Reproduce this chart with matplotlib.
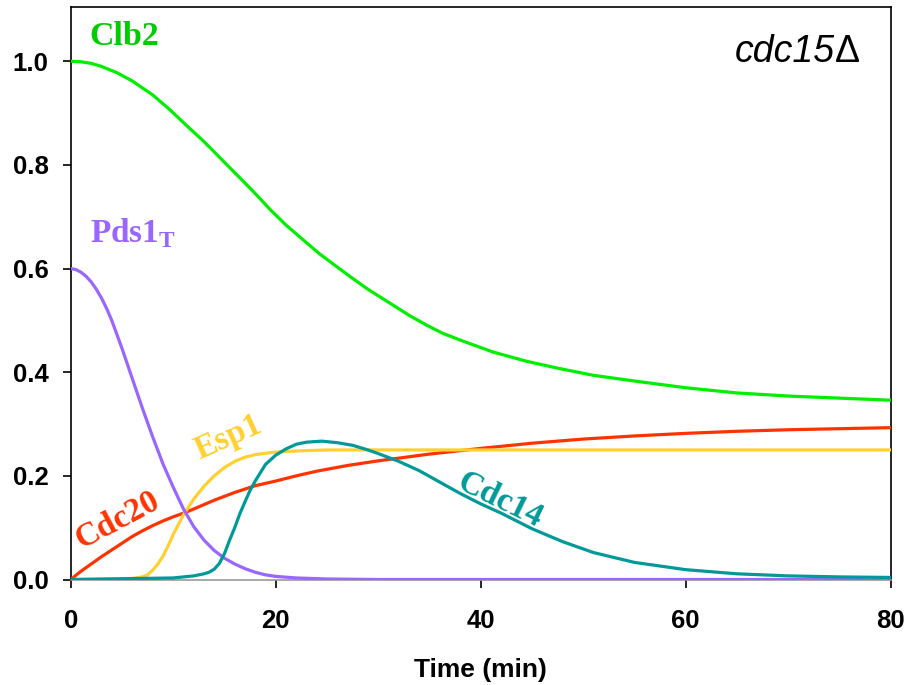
import matplotlib
matplotlib.use("Agg")
import matplotlib.pyplot as plt

# ---- data ----
t_clb2 = [0, 1, 2, 3, 4.5, 6, 8, 9.7, 11.3, 13, 14.5, 16, 17.8, 19.5, 21, 22.7, 24.3, 26, 27.5, 29, 31.4,
          33, 34.7, 36.3, 38, 41.2, 44.5, 47.7, 51, 55, 60, 65, 70, 75, 80]
clb2 = [1.0, 0.999, 0.996, 0.99, 0.978, 0.962, 0.935, 0.906, 0.876, 0.845, 0.815, 0.785, 0.749, 0.713,
        0.684, 0.655, 0.628, 0.603, 0.581, 0.56, 0.53, 0.51, 0.491, 0.475, 0.462, 0.439, 0.421, 0.407,
        0.394, 0.383, 0.37, 0.36, 0.354, 0.35, 0.346]

t_pds1 = [0, 0.5, 1, 1.5, 2, 2.5, 3, 3.5, 4, 5, 6, 7, 8, 9, 10, 11, 12, 13, 14, 15, 16, 17, 18, 19, 20,
          22, 25, 30, 40, 60, 80]
pds1 = [0.6, 0.598, 0.593, 0.585, 0.574, 0.56, 0.543, 0.523, 0.50, 0.446, 0.388, 0.33, 0.275, 0.223,
        0.178, 0.136, 0.102, 0.076, 0.056, 0.041, 0.03, 0.021, 0.014, 0.009, 0.006, 0.003, 0.001, 0.0,
        0.0, 0.0, 0.0]

t_esp1 = [0, 5, 6, 7, 7.5, 8, 8.5, 9, 9.5, 10, 11, 12, 13, 14, 15, 16, 17, 18, 20, 22, 25, 30, 40, 60, 80]
esp1 = [0.0, 0.001, 0.002, 0.005, 0.009, 0.018, 0.03, 0.045, 0.065, 0.087, 0.125, 0.155, 0.18, 0.2,
        0.216, 0.228, 0.236, 0.241, 0.246, 0.248, 0.25, 0.25, 0.25, 0.25, 0.25]

t_cdc20 = [0, 1, 2, 3, 4, 5, 6, 7, 8, 9, 10, 11, 12, 14, 16, 18, 20, 22, 24, 27, 30, 35, 40, 45, 50,
           55, 60, 65, 70, 75, 80]
cdc20 = [0.0, 0.016, 0.03, 0.044, 0.057, 0.07, 0.083, 0.094, 0.104, 0.113, 0.121, 0.128, 0.136, 0.153,
         0.168, 0.181, 0.19, 0.2, 0.209, 0.22, 0.229, 0.242, 0.253, 0.263, 0.271, 0.277, 0.282, 0.286,
         0.289, 0.291, 0.293]

t_cdc14 = [0, 10, 12, 13, 13.5, 14, 14.5, 15, 15.5, 16, 16.5, 17, 17.5, 18, 19, 20, 21, 22, 23, 24.5, 26,
           27.5, 29, 30, 32, 34, 36, 38, 40, 42, 45, 48, 51, 55, 60, 65, 70, 75, 80]
cdc14 = [0.0, 0.003, 0.007, 0.011, 0.014, 0.02, 0.031, 0.05, 0.076, 0.1, 0.127, 0.15, 0.172, 0.19, 0.222,
         0.24, 0.252, 0.261, 0.265, 0.267, 0.264, 0.259, 0.25, 0.243, 0.228, 0.21, 0.188, 0.166, 0.146,
         0.128, 0.098, 0.073, 0.052, 0.033, 0.019, 0.011, 0.007, 0.005, 0.004]

x_ticks = [0, 20, 40, 60, 80]
y_ticks = [0.0, 0.2, 0.4, 0.6, 0.8, 1.0]

# ---- styling ----
c_clb2, c_clb2_lab = "#00EE00", "#00CC00"
c_pds1 = "#9966FF"
c_esp1 = "#FFD030"
c_cdc20 = "#FF3300"
c_cdc14 = "#009999"

fig = plt.figure(figsize=(9.07, 6.85), dpi=100)
ax = fig.add_axes([0.078, 0.154, 0.904, 0.836])

lw = 2.3
ax.plot(t_clb2, clb2, color=c_clb2, lw=lw, zorder=3)
ax.plot(t_cdc20, cdc20, color=c_cdc20, lw=lw, zorder=3)
ax.plot(t_esp1, esp1, color=c_esp1, lw=lw, zorder=3)
ax.plot(t_pds1, pds1, color=c_pds1, lw=lw, zorder=3)
ax.plot(t_cdc14, cdc14, color=c_cdc14, lw=lw, zorder=4)

ax.set_xlim(0, 80)
ax.set_ylim(0, 1.105)
ax.set_xticks(x_ticks)
ax.set_yticks(y_ticks)
ax.set_xticklabels([str(v) for v in x_ticks])
ax.set_yticklabels([f"{v:.1f}" for v in y_ticks])
ax.tick_params(direction="out", length=6, width=1.2, labelsize=18.5)
ax.tick_params(axis="x", pad=15)
ax.tick_params(axis="y", pad=10)
for lab in ax.get_xticklabels() + ax.get_yticklabels():
    lab.set_fontweight("bold")
    lab.set_fontfamily("Liberation Sans")
for s in ax.spines.values():
    s.set_linewidth(1.2)
ax.spines["bottom"].set_color("#999999")
ax.set_xlabel("Time (min)", fontsize=19, fontweight="bold",
              fontfamily="Liberation Sans", labelpad=18)

serif = "Liberation Serif"
ax.text(1.85, 1.047, "Clb2", color=c_clb2_lab, fontsize=24.5, fontweight="bold",
        fontfamily=serif, ha="left", va="center")
ax.text(1.85, 0.668, r"Pds1$_\mathregular{T}$", color=c_pds1, fontsize=24,
        fontweight="bold", fontfamily=serif, ha="left", va="center")
ax.text(4.6, 0.115, "Cdc20", color=c_cdc20, fontsize=24, fontweight="bold",
        fontfamily=serif, ha="center", va="center", rotation=28,
        rotation_mode="anchor")
ax.text(15.4, 0.274, "Esp1", color=c_esp1, fontsize=24, fontweight="bold",
        fontfamily=serif, ha="center", va="center", rotation=24,
        rotation_mode="anchor")
ax.text(41.9, 0.153, "Cdc14", color=c_cdc14, fontsize=24, fontweight="bold",
        fontfamily=serif, ha="center", va="center", rotation=-26,
        rotation_mode="anchor")
t_strain = ax.text(64.8, 1.018, "cdc15", color="black", fontsize=27,
                   fontstyle="italic", fontfamily="Liberation Sans",
                   ha="left", va="center")
ax.annotate("\u0394", xy=(1.0, 0.5), xycoords=t_strain, color="black",
            fontsize=27, fontfamily="Liberation Sans", ha="left", va="center")

fig.savefig("out.png", dpi=100)
